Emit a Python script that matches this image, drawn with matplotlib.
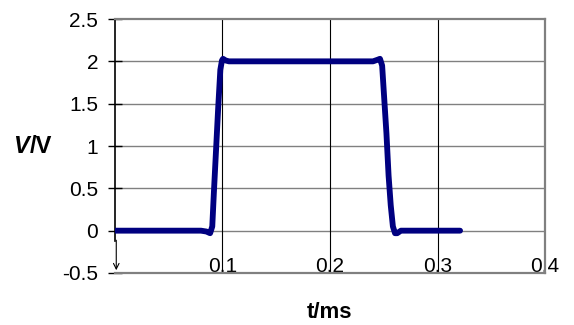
import matplotlib.pyplot as plt

plt.rcParams['font.family'] = ['Liberation Sans', 'DejaVu Sans']

# pulse trace
t_ms = [0.0, 0.02, 0.04, 0.06, 0.08, 0.085, 0.0885, 0.0905, 0.092, 0.094, 0.096,
        0.098, 0.0995, 0.1005, 0.103, 0.106, 0.15, 0.2, 0.24, 0.2445, 0.2465,
        0.2485, 0.2505, 0.2525, 0.2545, 0.2565, 0.2585, 0.2605, 0.2625, 0.266,
        0.28, 0.3, 0.321]
v = [0.0, 0.0, 0.0, 0.0, 0.0, -0.01, -0.03, 0.05, 0.45, 0.95, 1.45,
     1.9, 2.01, 2.03, 2.01, 2.0, 2.0, 2.0, 2.0, 2.02, 2.03,
     1.95, 1.55, 1.15, 0.65, 0.3, 0.05, -0.03, -0.03, 0.0,
     0.0, 0.0, 0.0]

xticks = [0.1, 0.2, 0.3, 0.4]
xticklabels = ['0.1', '0.2', '0.3', '0.4']
yticks = [-0.5, 0, 0.5, 1, 1.5, 2, 2.5]
yticklabels = ['-0.5', '0', '0.5', '1', '1.5', '2', '2.5']

fig = plt.figure(figsize=(5.74, 3.25), dpi=100)
ax = fig.add_axes([0.2003, 0.16, 0.7492, 0.7815])

ax.plot(t_ms, v, color='#000080', lw=4.2, solid_capstyle='round',
        solid_joinstyle='round', zorder=3)

ax.set_xlim(0, 0.4)
ax.set_ylim(-0.5, 2.5)

ax.set_yticks(yticks)
ax.set_yticklabels(yticklabels, fontsize=15)
ax.set_xticks(xticks)
ax.set_xticklabels(xticklabels, fontsize=15)
ax.tick_params(axis='x', length=0, pad=-1)
ax.tick_params(axis='y', length=10, width=1, color='black', direction='inout', pad=7)
plt.setp(ax.get_xticklabels(), va='baseline')

# grid: gray horizontal, black vertical
for yv in yticks[1:-1]:
    ax.axhline(yv, color='#808080', lw=1, zorder=1)
for xv in xticks[:-1]:
    ax.axvline(xv, color='black', lw=0.8, zorder=1)

for side in ['top', 'bottom', 'right']:
    ax.spines[side].set_color('#808080')
    ax.spines[side].set_linewidth(1.6)
ax.spines['left'].set_color('black')
ax.spines['left'].set_linewidth(1.2)
ax.spines['left'].set_bounds(-0.12, 2.5)

ax.annotate('', xy=(0.0012, -0.5), xytext=(0.0012, -0.08),
            arrowprops=dict(arrowstyle='->', color='black', lw=0.8))

fig.text(0.574, 0.0215, 't/ms', fontsize=16, fontweight='bold',
         ha='center', va='baseline')
fig.text(0.051, 0.529, 'V', fontsize=17, fontweight='bold', fontstyle='italic',
         ha='right', va='baseline')
fig.text(0.052, 0.529, '/V', fontsize=17, fontweight='bold', ha='left', va='baseline')

fig.savefig('out.png', dpi=100)
